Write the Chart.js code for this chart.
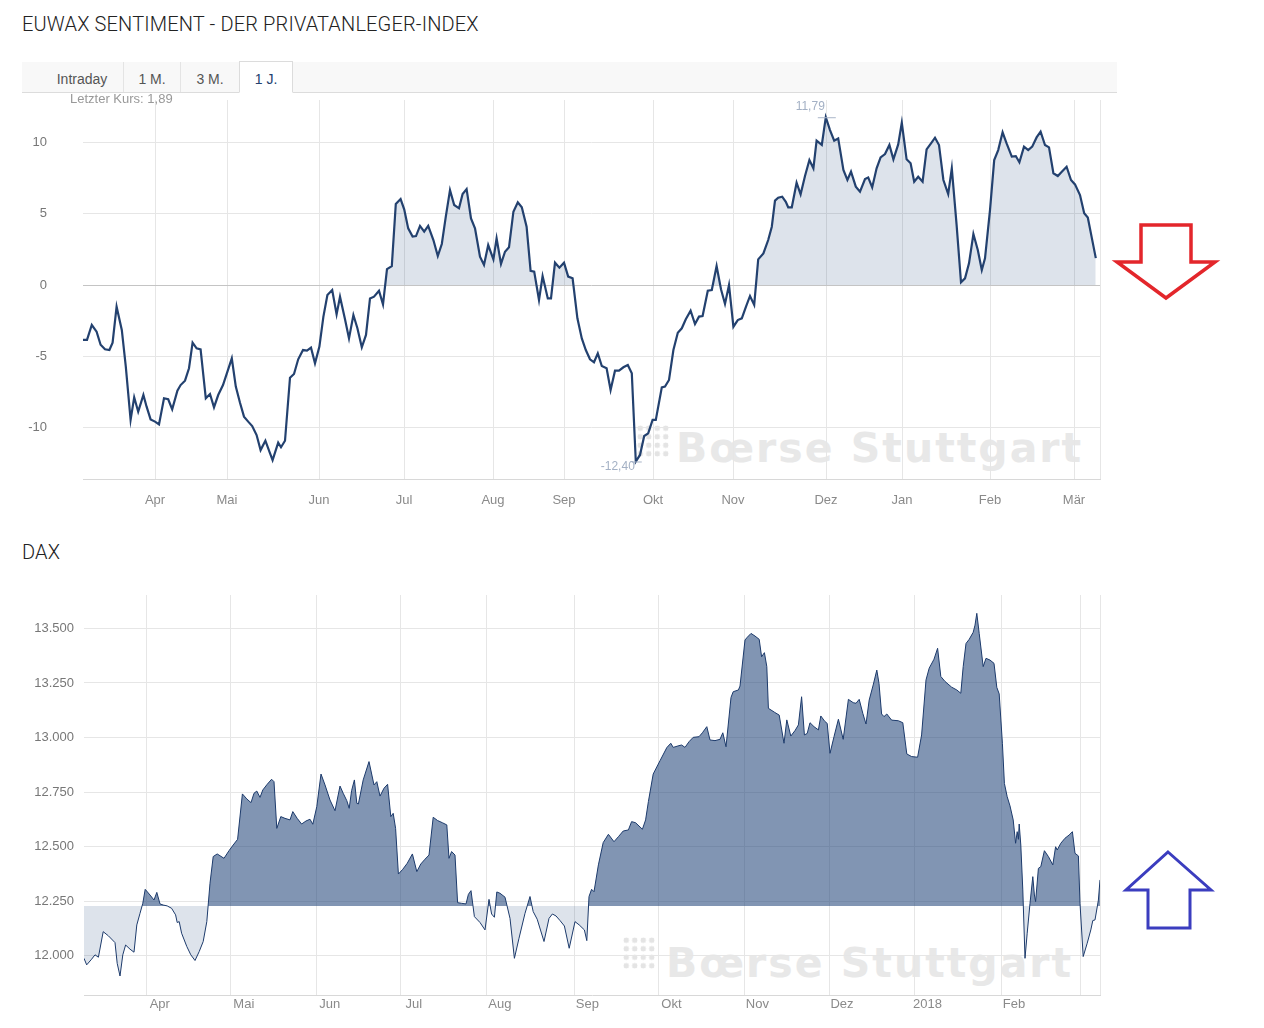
<!DOCTYPE html>
<html lang="de">
<head>
<meta charset="utf-8">
<title>EUWAX Sentiment und DAX</title>
<script src="https://cdn.jsdelivr.net/npm/chart.js@4.4.1/dist/chart.umd.min.js"></script>
<style>
    body { margin: 0; background: #fff; font-family: "Liberation Sans", Arial, sans-serif; }
    #seite { position: relative; width: 1264px; height: 1028px; overflow: hidden; }
    .titel { position: absolute; left: 22px; margin: 0; font-family: Roboto, sans-serif; font-weight: 300; font-size: 20px; letter-spacing: 0.15px; color: #222; line-height: 24px; }
    #tabs { position: absolute; left: 22px; top: 62px; width: 1095px; height: 30px; background: #f8f8f8; border-bottom: 1px solid #dcdcdc; }
    .tab { position: absolute; top: 0; height: 30px; line-height: 34px; font-size: 14px; color: #555; text-align: center; }
    .trenner { position: absolute; top: 0; width: 1px; height: 30px; background: #e4e4e4; }
    .tab.aktiv { background: #fff; border: 1px solid #dcdcdc; border-bottom: 1px solid #fff; height: 30px; top: -1px; color: #23416f; }
    #letzter { position: absolute; left: 70px; top: 91px; font-size: 13px; color: #999; }
    .wasserzeichen { position: absolute; font-family: "DejaVu Sans", sans-serif; font-weight: bold; font-size: 41px; letter-spacing: 2px; color: #e8e8e8; white-space: nowrap; }
    .punkte { position: absolute; width: 34px; height: 34px; background-image: radial-gradient(circle, #e4e4e4 2.6px, transparent 3px); background-size: 8.5px 8.5px; }
    canvas { position: absolute; left: 0; }
    svg { position: absolute; left: 0; top: 0; }
</style>
</head>
<body>
<div id="seite">
    <h1 class="titel" style="top:12px">EUWAX SENTIMENT - DER PRIVATANLEGER-INDEX</h1>

    <div id="tabs">
        <span class="tab" style="left:20px;width:80px">Intraday</span>
        <span class="trenner" style="left:101px"></span>
        <span class="tab" style="left:102px;width:56px">1 M.</span>
        <span class="trenner" style="left:158px"></span>
        <span class="tab" style="left:159px;width:58px">3 M.</span>
        <span class="trenner" style="left:217px"></span>
        <span class="tab aktiv" style="left:217px;width:52px">1 J.</span>
    </div>

    <div class="punkte" style="left:636px;top:424px"></div>
    <div class="wasserzeichen" style="left:676px;top:424px">Bœrse Stuttgart</div>
    <canvas id="sentimentChart" width="1104" height="430" style="top:90px;width:1104px;height:430px"></canvas>
    <div id="letzter"></div>

    <h1 class="titel" style="top:540px">DAX</h1>
    <div class="punkte" style="left:622px;top:936px"></div>
    <div class="wasserzeichen" style="left:666px;top:939px">Bœrse Stuttgart</div>
    <canvas id="daxChart" width="1104" height="440" style="top:585px;width:1104px;height:440px"></canvas>

    <svg width="1264" height="1028">
        <polygon points="1141,225 1191,225 1191,262 1215,262 1166,298 1117,262 1141,262"
                 fill="none" stroke="#e3262b" stroke-width="3.5"/>
        <polygon points="1168,852 1211,890 1190,890 1190,928 1148,928 1148,890 1126,890"
                 fill="none" stroke="#3b3dbf" stroke-width="3"/>
    </svg>
</div>

<script>
'use strict';

// EUWAX Sentiment: Handelstag (Index ab Anfang März) und Wert
const sentDays = [
    0, 1, 2.2, 3.4, 4.4, 5.5, 6.6, 7.4, 8.4, 9.7, 10.7, 11.9, 12.8, 13.8, 15.1, 15.9, 16.9, 18, 19, 20.25,
    21.3, 22.3, 23.6, 24.4, 25.5, 26.5, 27.4, 28.4, 29.4, 30.7, 31.75, 32.75, 33.8, 35, 37.2, 38.2, 39.25, 40.25, 41.3, 42.3,
    43.4, 44.4, 45.6, 46.6, 47.4, 48.8, 49.5, 50.5, 51.75, 52.75, 53.8, 55, 56, 57, 58, 59.1, 60.1, 61.1, 62.3, 63.4,
    64.25, 65.5, 66.5, 67.6, 68.6, 69.7, 70.75, 71.75, 72.75, 74, 75, 76, 77.2, 78.2, 79.4, 80.3, 81.3, 82.4, 83.25, 84.25,
    85.3, 86.3, 87.6, 88.7, 89.7, 90.7, 91.75, 92.8, 94, 94.9, 95.9, 97, 98, 99.25, 100.25, 101.3, 102.6, 103.4, 104.5, 105.5,
    106.5, 107.6, 108.7, 109.7, 110.9, 111.9, 112.8, 114, 114.9, 116.2, 117, 118, 119.1, 120.25, 121.3, 122.4, 123.6, 124.7, 125.7, 126.75,
    127.75, 128.7, 129.7, 130.9, 131.9, 133, 134, 135.1, 136.2, 137.2, 138.2, 139.25, 140.3, 141.3, 142.4, 143.2, 144.7, 145.5, 146.5, 147.6,
    148.7, 149.7, 150.7, 151.9, 153, 154, 154.9, 156.2, 157.2, 158.4, 159.5, 160.5, 161.5, 162.6, 163.7, 164.7, 165.75, 166.75, 167.8, 168.8,
    170.1, 171.3, 172.2, 173, 173.8, 174.8, 175.7, 176.3, 177.2, 178.4, 179.4, 180.5, 181.6, 182.6, 183.4, 184.7, 185.7, 186.75, 187.8, 188.8,
    190.1, 191.1, 192, 193.2, 194.25, 195.5, 196.3, 197.3, 198.4, 199.4, 200.5, 201.6, 202.6, 203.8, 204.7, 205.9, 206.9, 207.8, 208.8, 209.9,
    210.9, 212, 213, 214, 215.1, 216.3, 217.2, 218.4, 219.5, 220.5, 221.5, 222.6, 223.7, 224.7, 225.5, 226.75, 227.8, 228.8, 229.9, 230.9,
    232.2, 233.2, 234.1, 235.25, 236.3, 237.3, 238.4, 239.4, 240.5, 241.5, 242.6, 243.7, 244.7, 245.9, 247, 248, 249.25, 250.3, 251.2, 253.2
];
const sentValues = [
    -3.86, -3.86, -2.81, -3.28, -4.2, -4.52, -4.57, -4.05, -1.52, -3.16, -5.74, -9.48, -7.89, -8.9, -7.73, -8.55, -9.44, -9.6, -9.79, -7.96,
    -8.03, -8.74, -7.42, -7.03, -6.72, -5.85, -4.05, -4.45, -4.52, -7.96, -7.66, -8.6, -7.73, -7.03, -5.15, -7.14, -8.27, -9.25, -9.6, -9.91,
    -10.54, -11.6, -10.94, -11.7, -12.3, -11.08, -11.4, -10.94, -6.51, -6.25, -5.22, -4.57, -4.61, -4.4, -5.5, -4.33, -2.22, -0.7, -0.35, -2.06,
    -0.82, -2.41, -3.75, -2.11, -3.04, -4.38, -3.51, -0.94, -0.82, -0.4, -1.36, 1.12, 1.33, 5.69, 6.04, 5.32, 3.98, 3.4, 3.44, 4.15,
    3.75, 4.15, 3.16, 2.04, 2.88, 4.8, 6.67, 5.62, 5.39, 6.39, 6.74, 4.68, 3.98, 1.99, 1.41, 2.81, 1.8, 3.28, 1.48, 2.34,
    2.65, 5.15, 5.81, 5.46, 4.1, 1.0, 0.94, -1.05, 0.63, -0.94, -0.94, 1.57, 1.22, 1.57, 0.59, 0.47, -2.34, -3.75, -4.57, -5.22,
    -5.43, -4.8, -5.69, -5.85, -7.38, -6.02, -6.02, -5.78, -5.62, -6.2, -12.4, -11.94, -10.61, -10.42, -9.48, -9.48, -7.19, -7.14, -6.67, -4.57,
    -3.35, -3.04, -2.41, -1.8, -2.74, -2.22, -2.18, -0.4, -0.35, 1.33, -0.3, -1.33, 0, -2.93, -2.46, -2.34, -1.52, -0.77, -1.4, 1.8,
    2.22, 3.16, 4.1, 5.93, 6.14, 6.21, 5.85, 5.46, 5.46, 7.19, 6.37, 7.66, 8.78, 8.2, 10.14, 9.84, 11.79, 10.89, 10.14, 10.3,
    8.08, 7.38, 7.96, 6.91, 6.56, 7.45, 7.56, 6.86, 8.2, 8.97, 9.2, 9.84, 8.83, 9.88, 11.4, 8.83, 8.55, 7.26, 7.61, 7.26,
    9.53, 9.95, 10.35, 9.84, 7.38, 6.39, 8.2, 4.22, 0.19, 0.47, 1.52, 3.58, 2.46, 1.05, 1.87, 5.27, 8.78, 9.48, 10.73, 9.95,
    9.02, 9.06, 8.62, 9.72, 9.48, 9.72, 10.37, 10.77, 9.84, 9.67, 7.85, 7.66, 7.96, 8.31, 7.38, 7.07, 6.32, 5.04, 4.75, 1.89
];
const sentMonthTicks = [18, 36, 59, 80.25, 102.5, 120.25, 142.5, 162.5, 185.75, 204.75, 226.75, 247.75];
const sentMonthLabels = ['Apr', 'Mai', 'Jun', 'Jul', 'Aug', 'Sep', 'Okt', 'Nov', 'Dez', 'Jan', 'Feb', 'Mär'];
const sentYTicks = [-10, -5, 0, 5, 10];

// DAX: Handelstag und Schlusskurs
const daxDays = [
    0, 0.67, 1.9, 2.75, 3.6, 4.8, 6.1, 7.75, 8.3, 9, 9.7, 10.4, 11.5, 12.5, 13.2, 14, 14.7, 15.3, 16.5, 17.5,
    18.2, 19, 19.8, 20.8, 21.9, 22.9, 23.3, 23.8, 24.4, 25.7, 26.7, 27.75, 28.8, 29.8, 30.7, 31.5, 32.3, 33.3, 35, 36.25,
    37.3, 38.4, 39.6, 40.7, 41.75, 42.5, 43.2, 44, 44.7, 45.8, 46.9, 47.5, 48.2, 49.2, 50.25, 51.5, 52.2, 53.3, 54.4, 55.5,
    56.5, 57.2, 58.2, 59.25, 60.25, 61.5, 62.75, 64, 64.8, 65.7, 66.3, 66.9, 67.6, 68.2, 68.6, 69.8, 71.25, 72.5, 73.2, 74,
    75, 75.9, 76.7, 77.3, 77.9, 78.6, 79.7, 80.8, 82.1, 83.2, 84.2, 85.25, 86.25, 87.3, 88.4, 89.6, 90.7, 91.25, 91.9, 92.75,
    93.4, 94.4, 95.5, 96.1, 96.75, 97.6, 99, 100.25, 101.25, 101.9, 102.6, 103.2, 104, 105.25, 106.5, 107.6, 108.75, 110.25, 111.5, 112.3,
    113.3, 115, 116.25, 117.1, 118, 119, 120.1, 121.3, 122.75, 123.8, 125.1, 125.7, 126.25, 126.9, 127.5, 128.6, 129.8, 131.1, 132.5, 133.6,
    134.8, 136.1, 136.9, 137.9, 139.6, 140.4, 141.1, 142.3, 144, 145.7, 146.7, 147.3, 148.75, 149.4, 150.25, 151.25, 152.3, 153.75, 154.6, 155.7,
    156.5, 157.75, 159, 159.7, 160.5, 161.75, 162.3, 163.6, 164, 165.25, 165.8, 166.75, 167.75, 168.8, 169.4, 170.1, 170.7, 171.1, 172.7, 173.8,
    175, 175.7, 176.7, 177.75, 178.6, 179.4, 180.1, 180.8, 181.5, 182.5, 183.6, 184.2, 185.25, 185.8, 186.5, 187.5, 188.6, 189.8, 191.1, 192.3,
    193, 193.8, 194.7, 195.5, 196.3, 197.3, 198.2, 198.75, 199.4, 200, 200.7, 201.9, 203.6, 204.7, 205.7, 206.9, 208.4, 209.4, 210.5, 211.3,
    212.5, 213.4, 214.2, 215.25, 216.9, 218.2, 219.2, 219.8, 220.5, 221.3, 222.3, 222.75, 223.2, 223.8, 224.8, 225.5, 226.5, 227.5, 228.2, 228.8,
    229.6, 230.1, 230.8, 231.5, 232.3, 232.9, 233.3, 233.6, 233.8, 234.2, 234.7, 235.25, 235.8, 236.5, 237.2, 237.6, 237.9, 238.6, 239.2, 240.1,
    241.1, 242.2, 242.9, 243.3, 244.2, 245.25, 246.3, 247.1, 247.75, 248.6, 249, 249.8, 250.8, 251.7, 252.2, 252.75, 253.6, 254
];
const daxValues = [
    11989, 11959, 11985, 12005, 11994, 12111, 12092, 12061, 11966, 11908, 12005, 12050, 12031, 12017, 12142, 12195, 12241, 12305, 12279, 12256,
    12291, 12238, 12233, 12229, 12218, 12188, 12153, 12157, 12104, 12043, 12005, 11979, 12020, 12066, 12157, 12333, 12455, 12467, 12447, 12482,
    12508, 12534, 12742, 12719, 12702, 12745, 12755, 12726, 12760, 12786, 12809, 12798, 12584, 12638, 12630, 12623, 12661, 12630, 12604, 12618,
    12626, 12603, 12684, 12833, 12783, 12714, 12665, 12778, 12745, 12711, 12676, 12757, 12806, 12699, 12696, 12806, 12890, 12783, 12798, 12732,
    12768, 12786, 12638, 12653, 12584, 12375, 12397, 12424, 12467, 12386, 12421, 12443, 12462, 12635, 12620, 12610, 12600, 12447, 12478, 12462,
    12244, 12241, 12238, 12282, 12299, 12180, 12153, 12119, 12259, 12192, 12177, 12293, 12287, 12269, 12172, 11989, 12081, 12195, 12272, 12203,
    12168, 12066, 12172, 12192, 12183, 12162, 12137, 12035, 12157, 12142, 12119, 12070, 12272, 12305, 12294, 12417, 12519, 12557, 12523, 12546,
    12572, 12577, 12615, 12610, 12580, 12623, 12707, 12833, 12894, 12954, 12974, 12955, 12963, 12966, 12955, 12981, 13001, 13004, 13022, 13050,
    12989, 12986, 12992, 13022, 12958, 13184, 13210, 13218, 13236, 13447, 13459, 13477, 13465, 13450, 13370, 13389, 13325, 13134, 13115, 13103,
    12974, 13081, 13007, 13032, 13058, 13187, 13012, 13019, 13068, 13050, 13035, 13099, 13073, 13065, 12928, 13004, 13084, 12992, 13175, 13160,
    13157, 13175, 13111, 13062, 13172, 13241, 13309, 13248, 13108, 13096, 13108, 13080, 13077, 13068, 12925, 12913, 12910, 13012, 13264, 13318,
    13359, 13409, 13280, 13257, 13231, 13218, 13203, 13325, 13431, 13450, 13482, 13515, 13569, 13477, 13325, 13363, 13355, 13340, 13230, 13200,
    12974, 12790, 12729, 12687, 12623, 12516, 12569, 12534, 12604, 12508, 12302, 11989, 12104, 12241, 12363, 12279, 12249, 12401, 12409, 12482,
    12455, 12417, 12500, 12485, 12516, 12539, 12554, 12569, 12470, 12458, 12241, 11997, 12058, 12119, 12162, 12165, 12256, 12348
];
const daxMonthTicks = [15.7, 36.7, 58.2, 79.2, 100.7, 122.6, 143.6, 165.1, 186.25, 207.6, 229.25, 249];
const daxMonthLabels = ['Apr', 'Mai', 'Jun', 'Jul', 'Aug', 'Sep', 'Okt', 'Nov', 'Dez', '2018', 'Feb', ''];
const daxYTicks = [12000, 12250, 12500, 12750, 13000, 13250, 13500];
const daxBasis = 12229;

const schrift = '"Liberation Sans", Arial, sans-serif';

function deZahl(v, stellen)
{
    return v.toLocaleString('de-DE', { minimumFractionDigits: stellen, maximumFractionDigits: stellen });
}

// Chart.js legt sonst Label-Abstände um die Zeichenfläche
function ohnePadding(s)
{
    s.paddingTop = 0;
    s.paddingBottom = 0;
    s.paddingLeft = 0;
    s.paddingRight = 0;
}

// Höchst- und Tiefstwert wie im Original beschriften
const extremwerte = {
    id: 'extremwerte',
    afterDatasetsDraw(chart)
    {
        const { ctx, scales: { x, y } } = chart;
        const iMax = sentValues.indexOf(Math.max(...sentValues));
        const iMin = sentValues.indexOf(Math.min(...sentValues));
        const xMax = x.getPixelForValue(sentDays[iMax]), yMax = y.getPixelForValue(sentValues[iMax]);
        const xMin = x.getPixelForValue(sentDays[iMin]), yMin = y.getPixelForValue(sentValues[iMin]);

        ctx.save();
        ctx.strokeStyle = '#a9b5c8';
        ctx.lineWidth = 1;
        ctx.beginPath();
        ctx.moveTo(xMax - 8, yMax + 0.5); ctx.lineTo(xMax + 10, yMax + 0.5);
        ctx.moveTo(xMin - 4, yMin + 0.5); ctx.lineTo(xMin + 6, yMin + 0.5);
        ctx.stroke();

        ctx.fillStyle = '#a3b0c4';
        ctx.font = '12px ' + schrift;
        ctx.textAlign = 'right';
        ctx.textBaseline = 'middle';
        ctx.fillText(deZahl(sentValues[iMax], 2), xMax - 1, yMax - 11);
        ctx.fillText(deZahl(sentValues[iMin], 2), xMin - 1, yMin + 5);
        ctx.restore();
    }
};

function zeichneChart(id, cfg)
{
    const punkte = cfg.days.map((d, i) => ({ x: d, y: cfg.values[i] }));

    return new Chart(document.getElementById(id), {
        type: 'line',
        data: {
            datasets: [{
                data: punkte,
                borderColor: cfg.lineColor,
                borderWidth: cfg.lineWidth,
                pointRadius: 0,
                tension: 0,
                fill: { target: { value: cfg.basis }, above: cfg.fillAbove, below: cfg.fillBelow }
            }]
        },
        options: {
            responsive: false,
            animation: false,
            layout: { padding: { top: 10, right: 4, left: 0, bottom: 0 } },
            plugins: {
                legend: { display: false },
                tooltip: { enabled: false }
            },
            scales: {
                x: {
                    type: 'linear',
                    min: 0,
                    max: cfg.xMax,
                    afterBuildTicks: s => { s.ticks = cfg.monthTicks.concat([cfg.xMax]).map(v => ({ value: v })); },
                    afterFit: s => { s.height = cfg.xHeight; ohnePadding(s); },
                    grid: { color: '#e6e6e6', drawTicks: false },
                    border: { color: '#d8d8d8' },
                    ticks: {
                        autoSkip: false,
                        maxRotation: 0,
                        padding: cfg.xPad,
                        labelOffset: cfg.labelOffset,
                        color: '#8a8a8a',
                        font: { family: schrift, size: 13 },
                        callback: (v, i) => cfg.monthLabels[i] ?? ''
                    }
                },
                y: {
                    min: cfg.yMin,
                    max: cfg.yMax,
                    afterBuildTicks: s => { s.ticks = cfg.yTicks.map(v => ({ value: v })); },
                    afterFit: s => { s.width = cfg.yWidth; ohnePadding(s); },
                    border: { display: false },
                    grid: {
                        drawTicks: false,
                        color: c => (c.tick.value === cfg.basis ? '#c4c4c4' : '#e6e6e6')
                    },
                    ticks: {
                        padding: cfg.yPad,
                        color: '#777',
                        font: { family: schrift, size: 13 },
                        callback: cfg.yFormat
                    }
                }
            }
        },
        plugins: cfg.plugins || []
    });
}

zeichneChart('sentimentChart', {
    days: sentDays,
    values: sentValues,
    monthTicks: sentMonthTicks,
    monthLabels: sentMonthLabels,
    yTicks: sentYTicks,
    basis: 0,
    xMax: 254.25,
    yMin: -13.63,
    yMax: 13.0,
    xHeight: 41,
    xPad: 14,
    labelOffset: 0,
    yWidth: 83,
    yPad: 36,
    yFormat: v => String(v),
    lineColor: '#23416f',
    lineWidth: 2.2,
    fillAbove: 'rgba(30,66,120,0.15)',
    fillBelow: 'rgba(0,0,0,0)',
    plugins: [extremwerte]
});

zeichneChart('daxChart', {
    days: daxDays,
    values: daxValues,
    monthTicks: daxMonthTicks,
    monthLabels: daxMonthLabels,
    yTicks: daxYTicks,
    basis: daxBasis,
    xMax: 254,
    yMin: 11821,
    yMax: 13653,
    xHeight: 30,
    xPad: 2,
    labelOffset: 13,
    yWidth: 84,
    yPad: 10,
    yFormat: v => deZahl(v, 0),
    lineColor: '#1c3a6b',
    lineWidth: 1,
    fillAbove: 'rgba(30,66,120,0.56)',
    fillBelow: 'rgba(30,66,120,0.15)'
});

document.getElementById('letzter').textContent = 'Letzter Kurs: ' + deZahl(sentValues[sentValues.length - 1], 2);
</script>
</body>
</html>
